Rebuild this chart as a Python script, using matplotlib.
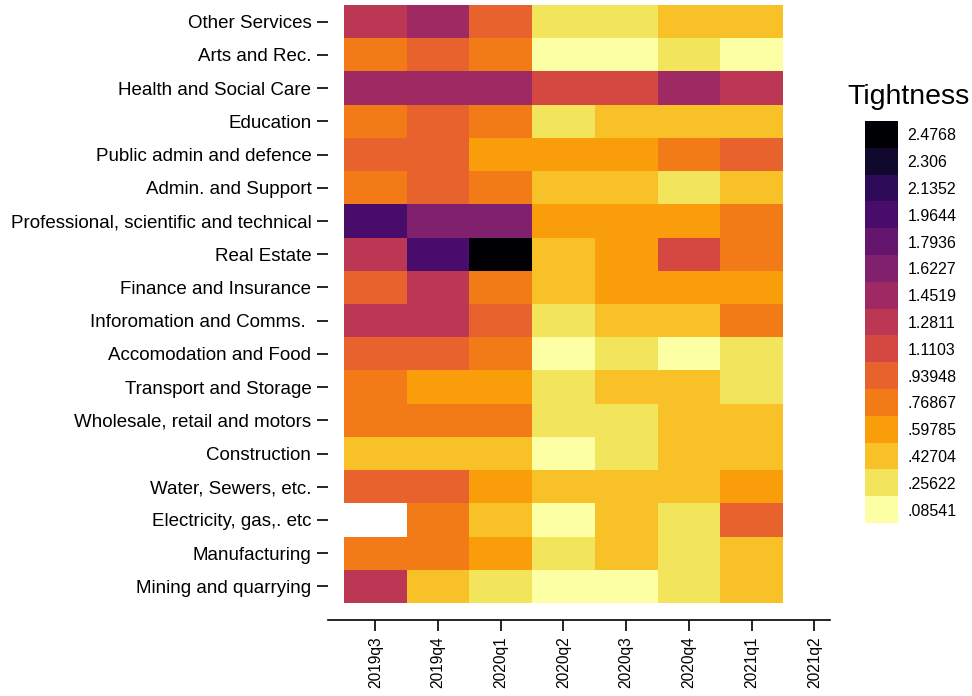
import numpy as np
import matplotlib
matplotlib.use("Agg")
import matplotlib.pyplot as plt
from matplotlib.colors import ListedColormap, BoundaryNorm

plt.rcParams["font.family"] = ["Liberation Sans", "DejaVu Sans"]

# Industries, top to bottom as shown
industries = [
    "Other Services",
    "Arts and Rec.",
    "Health and Social Care",
    "Education",
    "Public admin and defence",
    "Admin. and Support",
    "Professional, scientific and technical",
    "Real Estate",
    "Finance and Insurance",
    "Inforomation and Comms. ",
    "Accomodation and Food",
    "Transport and Storage",
    "Wholesale, retail and motors",
    "Construction",
    "Water, Sewers, etc.",
    "Electricity, gas,. etc",
    "Manufacturing",
    "Mining and quarrying",
]
quarters = ["2019q3", "2019q4", "2020q1", "2020q2", "2020q3", "2020q4", "2021q1", "2021q2"]

# legend levels (Stata-style binned colour scale)
levels = [0.08541, 0.25622, 0.42704, 0.59785, 0.76867, 0.93948, 1.1103, 1.2811,
          1.4519, 1.6227, 1.7936, 1.9644, 2.1352, 2.306, 2.4768]
level_labels = [".08541", ".25622", ".42704", ".59785", ".76867", ".93948", "1.1103",
                "1.2811", "1.4519", "1.6227", "1.7936", "1.9644", "2.1352", "2.306", "2.4768"]
level_colors = ["#fcffa4", "#f3e55b", "#f8c127", "#fa9d0a", "#f37b17", "#e8622e",
                "#d44841", "#bc3754", "#9f2a63", "#81206c", "#65156e", "#4a0c6b",
                "#2d0b59", "#10092d", "#000004"]

nan = np.nan
# tightness by quarter (2021q2 has no data)
other_services = [1.28, 1.45, 0.94, 0.26, 0.26, 0.43, 0.43, nan]
arts_rec = [0.77, 0.94, 0.77, 0.09, 0.09, 0.26, 0.09, nan]
health = [1.45, 1.45, 1.45, 1.11, 1.11, 1.45, 1.28, nan]
education = [0.77, 0.94, 0.77, 0.26, 0.43, 0.43, 0.43, nan]
public_admin = [0.94, 0.94, 0.60, 0.60, 0.60, 0.77, 0.94, nan]
admin_support = [0.77, 0.94, 0.77, 0.43, 0.43, 0.26, 0.43, nan]
professional = [1.96, 1.62, 1.62, 0.60, 0.60, 0.60, 0.77, nan]
real_estate = [1.28, 1.96, 2.48, 0.43, 0.60, 1.11, 0.77, nan]
finance = [0.94, 1.28, 0.77, 0.43, 0.60, 0.60, 0.60, nan]
info_comms = [1.28, 1.28, 0.94, 0.26, 0.43, 0.43, 0.77, nan]
accom_food = [0.94, 0.94, 0.77, 0.09, 0.26, 0.09, 0.26, nan]
transport = [0.77, 0.60, 0.60, 0.26, 0.43, 0.43, 0.26, nan]
wholesale = [0.77, 0.77, 0.77, 0.26, 0.26, 0.43, 0.43, nan]
construction = [0.43, 0.43, 0.43, 0.09, 0.26, 0.43, 0.43, nan]
water = [0.94, 0.94, 0.60, 0.43, 0.43, 0.43, 0.60, nan]
electricity = [nan, 0.77, 0.43, 0.09, 0.43, 0.26, 0.94, nan]
manufacturing = [0.77, 0.77, 0.60, 0.26, 0.43, 0.26, 0.43, nan]
mining = [1.28, 0.43, 0.26, 0.09, 0.09, 0.26, 0.43, nan]

grid = np.array([
    other_services, arts_rec, health, education, public_admin, admin_support,
    professional, real_estate, finance, info_comms, accom_food, transport,
    wholesale, construction, water, electricity, manufacturing, mining,
])

lv = np.array(levels)
step = lv[1] - lv[0]
bounds = np.concatenate([[lv[0] - step / 2], (lv[:-1] + lv[1:]) / 2, [lv[-1] + step / 2]])
cmap = ListedColormap(level_colors)
cmap.set_bad("white")
norm = BoundaryNorm(bounds, cmap.N)

fig = plt.figure(figsize=(9.72, 6.96), dpi=100)
ax = fig.add_axes([328 / 972, 76 / 696, 502 / 972, 615 / 696])

x = np.arange(len(quarters) + 1) - 0.5
y = np.arange(len(industries) + 1) - 0.5
ax.pcolormesh(x, y, np.ma.masked_invalid(grid), cmap=cmap, norm=norm)
ax.set_xlim(-0.755, 7.25)
ax.set_ylim(len(industries) - 0.5 + 0.51, -0.5)

ax.set_xticks(range(len(quarters)))
ax.set_xticklabels(quarters, rotation=90, fontsize=11.2)
ax.set_yticks(range(len(industries)))
ax.set_yticklabels(industries, fontsize=13.5)
ax.tick_params(axis="x", length=8, width=1.2, pad=4)
ax.tick_params(axis="y", length=8, width=1.2, pad=4)
for s in ["top", "right", "left"]:
    ax.spines[s].set_visible(False)
ax.spines["bottom"].set_linewidth(1.2)

# binned legend
cax = fig.add_axes([865 / 972, (696 - 523) / 696, 33 / 972, 402 / 696])
cb = fig.colorbar(plt.cm.ScalarMappable(norm=norm, cmap=cmap), cax=cax,
                  boundaries=bounds, ticks=lv)
cb.outline.set_visible(False)
cb.minorticks_off()
cb.ax.set_yticklabels(level_labels, fontsize=11.5)
cb.ax.tick_params(which="both", length=0, pad=7)
fig.text(908 / 972, 1 - 97 / 696, "Tightness", fontsize=20.5, ha="center", va="center")

fig.savefig("out.png", dpi=100)
